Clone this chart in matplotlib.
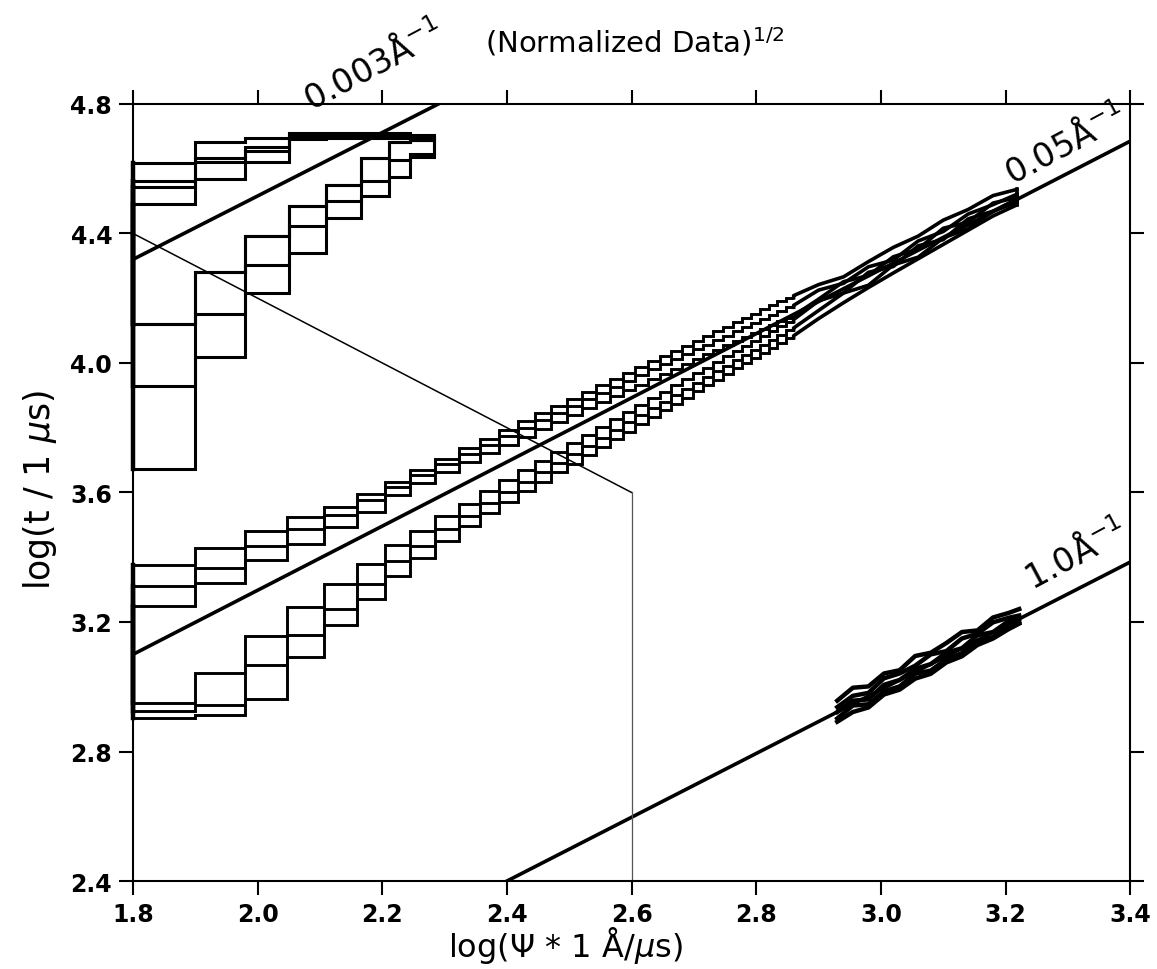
import matplotlib
matplotlib.use("Agg")
import matplotlib.pyplot as plt

plt.rcParams['font.family'] = ['DejaVu Sans']

# ---------------- axes ----------------
x_ticks = [1.8, 2.0, 2.2, 2.4, 2.6, 2.8, 3.0, 3.2, 3.4]
y_ticks = [2.4, 2.8, 3.2, 3.6, 4.0, 4.4, 4.8]
x_tick_labels = ['1.8', '2.0', '2.2', '2.4', '2.6', '2.8', '3.0', '3.2', '3.4']
y_tick_labels = ['2.4', '2.8', '3.2', '3.6', '4.0', '4.4', '4.8']

# ---------------- constant-Q reference lines ----------------
q003_x = [1.80, 2.29]
q003_y = [4.32, 4.80]
q005_x = [1.80, 3.40]
q005_y = [3.10, 4.685]
q10_x = [2.40, 3.40]
q10_y = [2.40, 3.385]
q_labels = ['0.003Å$^{-1}$', '0.05Å$^{-1}$', '1.0Å$^{-1}$']
q_label_x = [2.085, 3.21, 3.243]
q_label_y = [4.78, 4.553, 3.30]

# thin guide line
path_x = [1.80, 2.60, 2.60]
path_y = [4.40, 3.60, 2.40]

# ---------------- Q = 0.003 contours ----------------
c003_edges = [1.80, 1.90, 1.98, 2.05, 2.11, 2.165, 2.21, 2.245, 2.283]
c003_upper = [
    [4.619, 4.682, 4.696, 4.710, 4.710, 4.710, 4.710, 4.705],
    [4.561, 4.633, 4.668, 4.704, 4.705, 4.705, 4.705, 4.700],
    [4.545, 4.621, 4.656, 4.697, 4.700, 4.700, 4.700, 4.695],
    [4.490, 4.568, 4.622, 4.691, 4.695, 4.695, 4.695, 4.690],
]
c003_lower = [
    [3.673, 4.020, 4.215, 4.339, 4.448, 4.517, 4.573, 4.635],
    [3.929, 4.152, 4.302, 4.423, 4.501, 4.563, 4.628, 4.644],
    [4.120, 4.282, 4.391, 4.484, 4.550, 4.634, 4.681, 4.688],
    [4.120, 4.282, 4.391, 4.484, 4.550, 4.634, 4.681, 4.688],
]

# ---------------- Q = 0.05 contours ----------------
c05_up_edges = [1.80, 1.90, 1.98, 2.047, 2.107, 2.160, 2.205, 2.245, 2.285,
                2.323, 2.357, 2.388, 2.417, 2.445, 2.471, 2.496, 2.520, 2.543,
                2.565, 2.586, 2.606, 2.626, 2.645, 2.663, 2.681, 2.698, 2.715,
                2.731, 2.747, 2.762, 2.777, 2.792, 2.806, 2.820, 2.834, 2.847,
                2.860]
c05_upper = [
    [3.375, 3.428, 3.482, 3.523, 3.555, 3.595, 3.633,
     3.6695, 3.7048, 3.7373, 3.7667, 3.7939, 3.8197, 3.8442, 3.8672, 3.8894,
     3.9107, 3.9310, 3.9504, 3.9690, 3.9871, 4.0047, 4.0215, 4.0377, 4.0536,
     4.0690, 4.0839, 4.0984, 4.1125, 4.1260, 4.1396, 4.1527, 4.1654, 4.1781,
     4.1903, 4.2020],
    [3.310, 3.367, 3.436, 3.486, 3.530, 3.577, 3.618,
     3.6535, 3.6879, 3.7196, 3.7482, 3.7746, 3.7998, 3.8236, 3.8460, 3.8676,
     3.8883, 3.9081, 3.9270, 3.9451, 3.9627, 3.9799, 3.9962, 4.0120, 4.0275,
     4.0424, 4.0570, 4.0711, 4.0848, 4.0979, 4.1112, 4.1239, 4.1363, 4.1486,
     4.1605, 4.1720],
    [3.248, 3.321, 3.392, 3.440, 3.493, 3.540, 3.593,
     3.6281, 3.6620, 3.6933, 3.7216, 3.7477, 3.7725, 3.7960, 3.8182, 3.8395,
     3.8600, 3.8795, 3.8982, 3.9160, 3.9334, 3.9504, 3.9665, 3.9821, 3.9974,
     4.0122, 4.0265, 4.0404, 4.0540, 4.0670, 4.0801, 4.0926, 4.1048, 4.1170,
     4.1288, 4.1401],
]
c05_lo_edges = c05_up_edges
c05_lower = [
    [2.903, 2.914, 2.961, 3.092, 3.191, 3.272, 3.341, 3.397, 3.450, 3.497, 3.537,
     3.5710, 3.6031, 3.6334, 3.6620, 3.6895, 3.7159, 3.7412, 3.7653, 3.7883,
     3.8107, 3.8326, 3.8535, 3.8736, 3.8933, 3.9124, 3.9309, 3.9489, 3.9663,
     3.9831, 4.0000, 4.0163, 4.0320, 4.0477, 4.0629, 4.0775],
    [2.925, 2.945, 3.066, 3.160, 3.241, 3.318, 3.387, 3.434, 3.487, 3.527, 3.568,
     3.6016, 3.6332, 3.6632, 3.6914, 3.7186, 3.7447, 3.7696, 3.7934, 3.8162,
     3.8383, 3.8600, 3.8805, 3.9004, 3.9199, 3.9387, 3.9570, 3.9747, 3.9920,
     4.0086, 4.0253, 4.0413, 4.0568, 4.0724, 4.0874, 4.1018],
    [2.949, 3.043, 3.158, 3.246, 3.318, 3.380, 3.439, 3.480, 3.527, 3.564, 3.605,
     3.6379, 3.6689, 3.6982, 3.7259, 3.7525, 3.7780, 3.8025, 3.8257, 3.8480,
     3.8697, 3.8909, 3.9111, 3.9305, 3.9496, 3.9680, 3.9860, 4.0033, 4.0202,
     4.0365, 4.0528, 4.0685, 4.0837, 4.0989, 4.1136, 4.1277],
]
# braided end of the 0.05 data (x > 2.86)
c05_braid_x = [2.86, 2.90, 2.94, 2.98, 3.02, 3.06, 3.10, 3.14, 3.18, 3.218]
c05_braid_up = [
    [4.208, 4.242, 4.266, 4.313, 4.357, 4.392, 4.441, 4.474, 4.517, 4.536],
    [4.178, 4.225, 4.246, 4.297, 4.318, 4.377, 4.406, 4.460, 4.489, 4.521],
    [4.146, 4.197, 4.251, 4.270, 4.328, 4.352, 4.416, 4.435, 4.494, 4.511],
]
c05_braid_lo = [
    [4.084, 4.137, 4.186, 4.233, 4.278, 4.322, 4.366, 4.410, 4.454, 4.488],
    [4.108, 4.162, 4.216, 4.240, 4.303, 4.327, 4.386, 4.415, 4.469, 4.496],
    [4.134, 4.192, 4.216, 4.280, 4.298, 4.362, 4.381, 4.445, 4.469, 4.506],
]

# ---------------- Q = 1.0 data blob ----------------
blob_x = [2.930, 2.955, 2.980, 3.005, 3.030, 3.055, 3.080, 3.105, 3.130,
          3.155, 3.180, 3.205, 3.222]
blob_lines = [
    [2.957, 2.997, 3.001, 3.041, 3.051, 3.095, 3.105, 3.135, 3.169, 3.174, 3.214, 3.228, 3.240],
    [2.937, 2.972, 2.981, 3.026, 3.041, 3.065, 3.100, 3.110, 3.149, 3.164, 3.199, 3.213, 3.220],
    [2.922, 2.957, 2.961, 3.006, 3.021, 3.055, 3.070, 3.105, 3.119, 3.159, 3.169, 3.203, 3.210],
    [2.902, 2.942, 2.946, 2.986, 3.001, 3.040, 3.050, 3.085, 3.104, 3.139, 3.154, 3.188, 3.200],
    [2.892, 2.922, 2.936, 2.976, 2.991, 3.025, 3.040, 3.075, 3.094, 3.129, 3.149, 3.178, 3.195],
]

# =========================================================
fig = plt.figure(figsize=(11.57, 9.70), dpi=100)
ax = fig.add_axes([0.115, 0.0907, 0.8618, 0.8011])
ax.set_xlim(1.8, 3.4)
ax.set_ylim(2.4, 4.8)

LW = 2.2
K = 'black'

def draw_stairs(edges, levels, lw=LW):
    ax.stairs(levels, edges, baseline=None, color=K, lw=lw)

# 0.003
for up, lo in zip(c003_upper, c003_lower):
    draw_stairs(c003_edges, up)
    draw_stairs(c003_edges, lo)
    ax.plot([c003_edges[-1]] * 2, [up[-1], lo[-1]], color=K, lw=LW)
    ax.plot([c003_edges[0]] * 2, [up[0], lo[0]], color=K, lw=LW + 1, clip_on=False)

# 0.05
for i in range(3):
    up = c05_upper[i]
    lo = c05_lower[2 - i]
    draw_stairs(c05_up_edges, c05_upper[i], lw=2.1)
    draw_stairs(c05_lo_edges, c05_lower[i], lw=2.1)
    ax.plot([c05_up_edges[-1]] + c05_braid_x, [c05_upper[i][-1]] + c05_braid_up[i],
            color=K, lw=2.6)
    ax.plot([c05_lo_edges[-1]] + c05_braid_x, [c05_lower[i][-1]] + c05_braid_lo[i],
            color=K, lw=2.6)
    ax.plot([c05_braid_x[-1]] * 2, [c05_braid_up[i][-1], c05_braid_lo[i][-1]],
            color=K, lw=2.6)
    ax.plot([1.8, 1.8], [up[0], lo[0]], color=K, lw=LW + 1, clip_on=False)

# 1.0 blob
for bl in blob_lines:
    ax.plot(blob_x, bl, color=K, lw=3.2)

# reference lines
ax.plot(q003_x, q003_y, color=K, lw=2.6)
ax.plot(q005_x, q005_y, color=K, lw=2.6)
ax.plot(q10_x, q10_y, color=K, lw=2.6)
ax.plot(path_x[:2], path_y[:2], color=K, lw=1.1)
ax.plot(path_x[1:], path_y[1:], color='#555555', lw=0.9)

for t, lx, ly in zip(q_labels, q_label_x, q_label_y):
    ax.text(lx, ly, t, rotation=28, rotation_mode='anchor', ha='left',
            va='baseline', fontsize=24, clip_on=False)

# frame & ticks
for s in ax.spines.values():
    s.set_linewidth(1.5)
ax.set_xticks(x_ticks)
ax.set_xticklabels(x_tick_labels)
ax.set_yticks(y_ticks)
ax.set_yticklabels(y_tick_labels)
ax.tick_params(direction='out', length=10, width=1.5, top=True, right=True,
               labelsize=17, pad=5)
for lab in ax.get_xticklabels() + ax.get_yticklabels():
    lab.set_fontweight('bold')

fig.text(0.489, 0.013, 'log(Ψ * 1 Å/$\\mu$s)', ha='center', va='baseline', fontsize=23)
fig.text(0.035, 0.495, 'log(t / 1 $\\mu$s)', ha='center', va='center',
         rotation=90, fontsize=25)
fig.text(0.549, 0.957, '(Normalized Data)$^{1/2}$', ha='center', va='center', fontsize=21)

fig.savefig('out.png', dpi=100)
